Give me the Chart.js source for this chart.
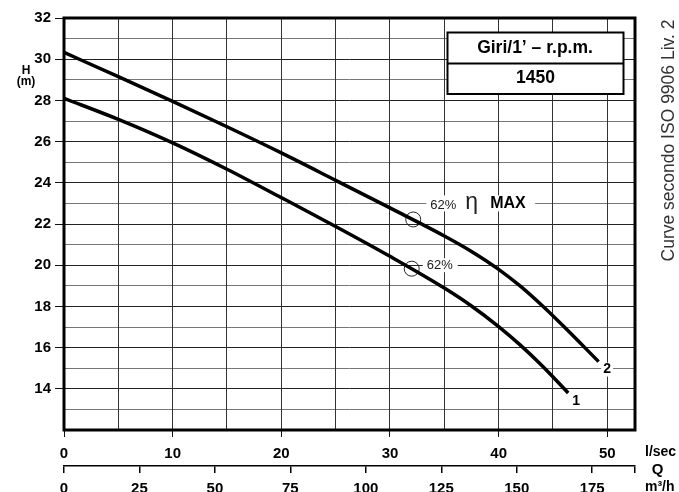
<!DOCTYPE html>
<html>
<head>
<meta charset="utf-8">
<script src="https://cdn.jsdelivr.net/npm/chart.js@4.4.0/dist/chart.umd.min.js"></script>
<style>
  html, body { margin: 0; padding: 0; background: #fff; }
  #wrap { width: 679px; height: 492px; }
</style>
</head>
<body>
<div id="wrap"><canvas id="curve" width="679" height="492"></canvas></div>
<script>
// --- Valeurs (Q en l/sec, H en m) ---
const curve1Q = [0, 5, 10, 15, 20, 25, 30, 35, 37.5, 40, 42, 44, 46.4];
const curve1H = [28.1, 27.08, 25.94, 24.66, 23.28, 21.88, 20.43, 18.89, 18.02, 17.02, 16.12, 15.12, 13.8];
const curve2Q = [0, 5, 10, 15, 20, 25, 30, 35, 37.5, 40, 42, 44, 46, 49.2];
const curve2H = [30.33, 29.15, 27.95, 26.72, 25.45, 24.12, 22.78, 21.42, 20.67, 19.8, 18.98, 18.04, 17.02, 15.32];

// points de rendement max
const effQ = [32.0, 32.14];
const effH = [19.83, 22.22];
const effText = ['62%', '62%'];

const hTicks = [14, 16, 18, 20, 22, 24, 26, 28, 30, 32];
const lsTicks = [0, 10, 20, 30, 40, 50];
const m3hTicks = [0, 25, 50, 75, 100, 125, 150, 175];
const H_MIN = 12;
const H_MAX = 32;
const Q_MAX = 52.55; // l/sec au bord droit

const FONT = '"Liberation Sans", Arial, sans-serif';
Chart.defaults.font.family = FONT;
Chart.defaults.color = '#000';

const toXY = (qs, hs) => qs.map((q, i) => ({ x: q, y: hs[i] }));
const near = (list, v) => list.some(t => Math.abs(t - v) < 1e-6);

function boxedText(ctx, text, x, y, font, color, align) {
  ctx.font = font;
  const w = ctx.measureText(text).width;
  const left = align === 'center' ? x - w / 2 : x;
  ctx.fillStyle = '#fff';
  ctx.fillRect(left - 2, y - 7, w + 4, 14);
  ctx.fillStyle = color;
  ctx.textAlign = align;
  ctx.textBaseline = 'middle';
  ctx.fillText(text, x, y);
}

const decor = {
  id: 'decor',
  beforeDatasetsDraw(chart) {
    const { ctx, chartArea: a } = chart;
    ctx.save();
    ctx.strokeStyle = '#000';
    ctx.lineWidth = 3;
    ctx.strokeRect(a.left, a.top, a.right - a.left, a.bottom - a.top);
    ctx.restore();
  },
  afterDraw(chart) {
    const { ctx, scales } = chart;
    const ys = scales.y;
    ctx.save();

    // etiquettes de rendement
    const eff = chart.getDatasetMeta(2).data;
    const lo = eff[0], hi = eff[1];
    // haut : 62% η MAX sur la ligne H=23
    const yTop = ys.getPixelForValue(23);
    ctx.fillStyle = '#fff';
    ctx.fillRect(hi.x + 13, yTop - 8, 109, 16);
    ctx.fillStyle = '#222';
    ctx.font = '13px ' + FONT;
    ctx.textAlign = 'left';
    ctx.textBaseline = 'middle';
    ctx.fillText(effText[1], hi.x + 17, yTop + 2);
    ctx.font = '23px ' + FONT;
    ctx.textBaseline = 'alphabetic';
    ctx.fillText('\u03B7', hi.x + 52, yTop + 6);
    ctx.fillStyle = '#000';
    ctx.font = 'bold 16px ' + FONT;
    ctx.textBaseline = 'middle';
    ctx.fillText('MAX', hi.x + 77, yTop);
    // bas : 62% sur la ligne H=20
    const yLow = ys.getPixelForValue(20);
    ctx.fillStyle = '#fff';
    ctx.fillRect(lo.x + 11, yLow - 7, 35, 14);
    ctx.fillStyle = '#222';
    ctx.font = '13px ' + FONT;
    ctx.textBaseline = 'middle';
    ctx.fillText(effText[0], lo.x + 15, yLow);

    // numeros des courbes
    const end1 = chart.getDatasetMeta(0).data.at(-1);
    const end2 = chart.getDatasetMeta(1).data.at(-1);
    boxedText(ctx, '1', end1.x + 8, end1.y + 8, 'bold 14px ' + FONT, '#000', 'center');
    boxedText(ctx, '2', end2.x + 8.5, end2.y + 8, 'bold 14px ' + FONT, '#000', 'center');

    // cartouche vitesse
    const bx = 447.5, by = 32.5, bw = 176, bh = 61.5;
    ctx.fillStyle = '#fff';
    ctx.fillRect(bx, by, bw, bh);
    ctx.strokeStyle = '#000';
    ctx.lineWidth = 2;
    ctx.strokeRect(bx, by, bw, bh);
    ctx.beginPath();
    ctx.moveTo(bx, 63.5);
    ctx.lineTo(bx + bw, 63.5);
    ctx.stroke();
    ctx.fillStyle = '#000';
    ctx.font = 'bold 17.5px ' + FONT;
    ctx.textAlign = 'center';
    ctx.textBaseline = 'middle';
    ctx.fillText('Giri/1\u2019 \u2013 r.p.m.', bx + bw / 2 - 0.5, 48.5);
    ctx.fillText('1450', bx + bw / 2, 78.5);

    // titres d'axes
    ctx.font = 'bold 12px ' + FONT;
    ctx.fillText('H', 26, 71);
    ctx.fillText('(m)', 26, 82);
    ctx.font = 'bold 14px ' + FONT;
    ctx.textAlign = 'left';
    ctx.fillText('l/sec', 645, 452);
    ctx.font = 'bold 15px ' + FONT;
    ctx.textAlign = 'center';
    ctx.fillText('Q', 657.5, 470);
    ctx.font = 'bold 14px ' + FONT;
    ctx.textAlign = 'left';
    ctx.fillText('m\u00B3/h', 645, 487);

    // mention verticale
    ctx.translate(669, 140.5);
    ctx.rotate(-Math.PI / 2);
    ctx.fillStyle = '#333';
    ctx.font = '17.5px ' + FONT;
    ctx.textAlign = 'center';
    ctx.fillText('Curve secondo ISO 9906 Liv. 2', 0, 0);
    ctx.restore();
  }
};

const curveLine = {
  showLine: true,
  borderColor: '#000',
  borderWidth: 3.5,
  pointRadius: 0,
  cubicInterpolationMode: 'monotone',
  fill: false
};

new Chart(document.getElementById('curve'), {
  type: 'scatter',
  data: {
    datasets: [
      { ...curveLine, label: '1', data: toXY(curve1Q, curve1H) },
      { ...curveLine, label: '2', data: toXY(curve2Q, curve2H) },
      {
        label: 'eta',
        data: toXY(effQ, effH),
        showLine: false,
        pointStyle: 'circle',
        pointRadius: 7.5,
        borderWidth: 1,
        borderColor: '#222',
        backgroundColor: 'rgba(0,0,0,0)'
      }
    ]
  },
  options: {
    responsive: false,
    animation: false,
    devicePixelRatio: 1,
    layout: { padding: { left: 0, top: 18, right: 44, bottom: 0 } },
    plugins: { legend: { display: false }, tooltip: { enabled: false } },
    scales: {
      y: {
        type: 'linear',
        min: H_MIN,
        max: H_MAX,
        afterFit: s => { s.width = 64; },
        ticks: {
          stepSize: 1,
          autoSkip: false,
          padding: 4,
          font: { size: 15, weight: 'bold' },
          callback: v => (near(hTicks, v) ? v : '')
        },
        grid: {
          color: c => (Math.round(c.tick.value) % 2 === 0 ? '#222' : '#777'),
          lineWidth: 1,
          tickLength: 9,
          tickColor: c => (near(hTicks, c.tick.value) ? '#111' : 'rgba(0,0,0,0)')
        },
        border: { display: false }
      },
      x: {
        type: 'linear',
        position: 'bottom',
        weight: 1,
        min: 0,
        max: Q_MAX,
        afterFit: s => { s.height = 36; },
        ticks: {
          stepSize: 5,
          includeBounds: false,
          autoSkip: false,
          maxRotation: 0,
          padding: 8,
          font: { size: 15, weight: 'bold' },
          callback: v => (near(lsTicks, v) ? v : '')
        },
        grid: {
          color: '#333',
          lineWidth: 1,
          tickLength: 7,
          tickColor: c => (near(lsTicks, c.tick.value) ? '#111' : 'rgba(0,0,0,0)')
        },
        border: { display: false }
      },
      x2: {
        type: 'linear',
        position: 'bottom',
        weight: 2,
        min: 0,
        max: Q_MAX * 3.6,
        afterFit: s => { s.height = 26; },
        afterBuildTicks: s => { s.ticks.push({ value: s.max }); },
        ticks: {
          stepSize: 25,
          includeBounds: false,
          autoSkip: false,
          maxRotation: 0,
          padding: 7,
          font: { size: 15, weight: 'bold' },
          callback: v => (near(m3hTicks, v) ? v : '')
        },
        grid: {
          drawOnChartArea: false,
          tickLength: 7,
          tickColor: '#000',
          lineWidth: 1.5
        },
        border: { display: true, color: '#000', width: 1.5 }
      }
    }
  },
  plugins: [decor]
});
</script>
</body>
</html>
